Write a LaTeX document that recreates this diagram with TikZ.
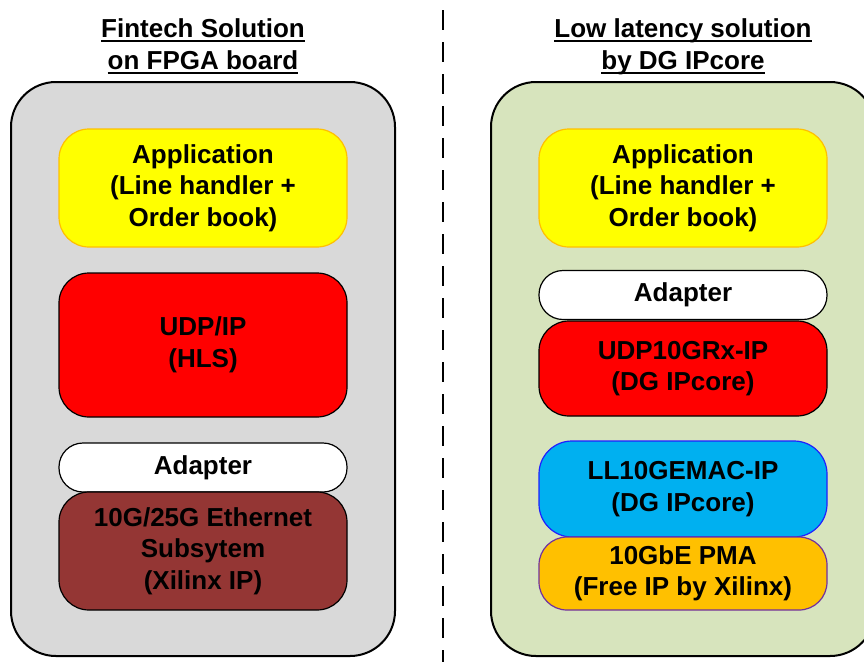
\documentclass[tikz,border=0pt]{standalone}
\usepackage{fontspec}
\setmainfont{Liberation Sans}
\usetikzlibrary{positioning}

\definecolor{boardgray}{HTML}{D9D9D9}
\definecolor{dggreen}{HTML}{D7E4BD}
\definecolor{appyellow}{HTML}{FFFF00}
\definecolor{apporange}{HTML}{FFC000}
\definecolor{udpred}{HTML}{FF0000}
\definecolor{ethbrown}{HTML}{943634}
\definecolor{macblue}{HTML}{00B0F0}
\definecolor{macedge}{HTML}{1F1FFF}
\definecolor{pmaorange}{HTML}{FFC000}
\definecolor{pmaedge}{HTML}{7030A0}

% underline at a fixed depth, through the descenders
\newcommand\titleul[1]{\setbox0\hbox{#1}\rlap{\rule[-4.5pt]{\wd0}{2pt}}\box0}

\tikzset{
  bigfont/.style={font=\fontsize{26}{31.5}\selectfont\bfseries},
  board/.style={draw=black, line width=2pt, rounded corners=45pt},
  block/.style={bigfont, align=center, inner sep=0pt, minimum width=288pt,
    rounded corners=30pt, line width=1.2pt, draw=black},
  title/.style={bigfont, align=center, inner sep=0pt, anchor=base},
}

\begin{document}
\begin{tikzpicture}[x=1pt,y=-1pt]
\useasboundingbox (0,0) rectangle (864,662);
\clip (0,0) rectangle (864,662);

% boards
\draw[board, fill=boardgray] (11,82) rectangle (395,656);
\draw[board, fill=dggreen] (491,82) rectangle (875,656);
\draw[black, line width=2.5pt, dash pattern=on 20pt off 12pt] (443,10) -- (443,662);

% titles
\node[title] (tleft) at (203,69) {\titleul{Fintech Solution}\\\titleul{on FPGA board}};
\node[title] (tright) at (683,69) {\titleul{Low latency solution}\\\titleul{by DG IPcore}};

% left side
\node[block, fill=appyellow, draw=apporange, minimum height=118pt] (appL) at (203,188)
  {Application\\(Line handler +\\Order book)};
\node[block, fill=udpred, minimum height=144pt] (udpL) at (203,345) {UDP/IP\\(HLS)};
\node[block, fill=white, minimum height=49pt, rounded corners=24pt] (adpL) at (203,467.5) {Adapter};
\node[block, fill=ethbrown, minimum height=118pt] (ethL) at (203,551)
  {10G/25G Ethernet\\Subsytem\\(Xilinx IP)};

% right side
\node[block, fill=appyellow, draw=apporange, minimum height=118pt] (appR) at (683,188)
  {Application\\(Line handler +\\Order book)};
\node[block, fill=white, minimum height=49pt, rounded corners=24pt] (adpR) at (683,295) {Adapter};
\node[block, fill=udpred, minimum height=95pt] (udpR) at (683,368.5) {UDP10GRx-IP\\(DG IPcore)};
\node[block, fill=macblue, draw=macedge, minimum height=96pt, rounded corners=33pt] (macR) at (683,489)
  {LL10GEMAC-IP\\(DG IPcore)};
\node[block, fill=pmaorange, draw=pmaedge, minimum height=73pt, rounded corners=28pt] (pmaR) at (683,573.5)
  {10GbE PMA\\(Free IP by Xilinx)};
\end{tikzpicture}
\end{document}
